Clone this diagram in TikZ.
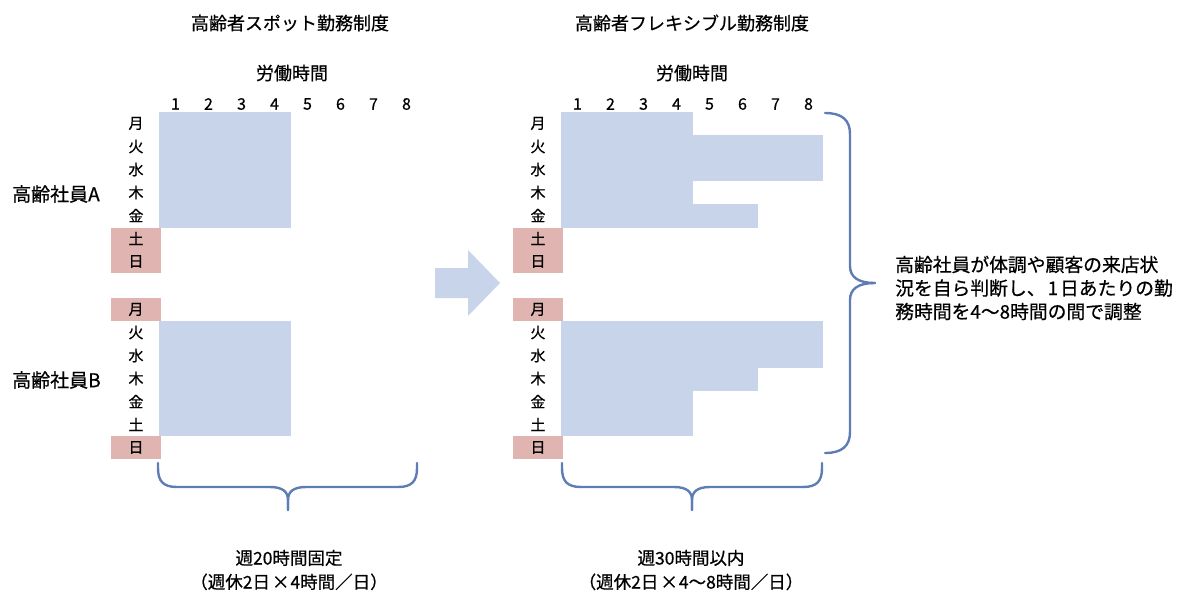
\documentclass[tikz,border=0pt]{standalone}
\usepackage{fontspec}
\setmainfont{Noto Sans CJK JP}[FakeBold=0.6]
\definecolor{barblue}{HTML}{C8D4EA}
\definecolor{wkpink}{HTML}{E0B5B1}
\definecolor{bracecol}{HTML}{5F7DB5}
\begin{document}
\begin{tikzpicture}[x=1pt,y=-1pt,
  ttl/.style={font=\fontsize{18}{20}\selectfont, inner sep=0pt},
  sub/.style={font=\fontsize{18}{20}\selectfont, inner sep=0pt},
  daylab/.style={font=\fontsize{15}{16}\selectfont, inner sep=0pt},
  numlab/.style={font=\fontsize{16}{16}\selectfont, inner sep=0pt},
  grp/.style={font=\fontsize{19}{20}\selectfont, inner sep=0pt, anchor=west},
  note/.style={font=\fontsize{18.8}{23.5}\selectfont, inner sep=0pt, align=left, anchor=west},
  foot/.style={font=\fontsize{17.5}{24}\selectfont, inner sep=0pt, align=center},
  bar/.style={fill=barblue},
  wkend/.style={fill=wkpink},
  bracepath/.style={draw=bracecol, line width=2.4pt, line cap=round, line join=round},
  blockarrow/.style={fill=barblue}]
\useasboundingbox (0,0) rectangle (1178,592);

% titles
\node[ttl] (titleL) at (290,23) {高齢者スポット勤務制度};
\node[ttl] (titleR) at (692,23) {高齢者フレキシブル勤務制度};
\node[sub] (hoursL) at (292,73) {労働時間};
\node[sub] (hoursR) at (692,73) {労働時間};

% group labels
\node[grp] (empA) at (12,194) {高齢社員A};
\node[grp] (empB) at (12,380) {高齢社員B};

% weekend cells (left)
\fill[wkend] (111,227.5) rectangle (161,273);
\fill[wkend] (111,298) rectangle (161,321);
\fill[wkend] (111,436) rectangle (161,459);
% weekend cells (right)
\fill[wkend] (513,227.5) rectangle (563,273);
\fill[wkend] (513,298) rectangle (563,321);
\fill[wkend] (513,436) rectangle (563,459);

% bars left
\fill[bar] (159,112) rectangle (291,227.5);
\fill[bar] (159,321) rectangle (291,436);
% bars right, A
\fill[bar] (561,112) rectangle (693,227.5);
\fill[bar] (692,135) rectangle (823,181);
\fill[bar] (692,204) rectangle (758,227.5);
% bars right, B
\fill[bar] (561,321) rectangle (693,436);
\fill[bar] (692,321) rectangle (823,367.5);
\fill[bar] (692,367) rectangle (758,390.5);

% hour numbers
\foreach \j in {1,...,8} {
  \node[numlab] (numL\j) at (159+33*\j-16.5,104) {\j};
  \node[numlab] (numR\j) at (561+33*\j-16.5,104) {\j};
}

% day labels
\foreach \d [count=\i] in {月,火,水,木,金,土,日} {
  \node[daylab] (dayLA\i) at (136,100.5+23*\i) {\d};
  \node[daylab] (dayLB\i) at (136,286.5+23*\i) {\d};
  \node[daylab] (dayRA\i) at (538,100.5+23*\i) {\d};
  \node[daylab] (dayRB\i) at (538,286.5+23*\i) {\d};
}

% block arrow
\fill[blockarrow] (435,268) -- (468,268) -- (468,250) -- (500,283) -- (468,316) -- (468,298) -- (435,298) -- cycle;

% bottom braces
\coordinate (bLs) at (158,463);
\coordinate (bLe) at (417,463);
\coordinate (bLt) at (288,510);
\draw[bracepath] (bLs) -- (158,468) .. controls (158,481) and (163,487) .. (177,487)
  -- (270,487) .. controls (283,487) and (288,492) .. (288,500) -- (bLt);
\draw[bracepath] (bLe) -- (417,468) .. controls (417,481) and (412,487) .. (398,487)
  -- (306,487) .. controls (293,487) and (288,492) .. (288,500) -- (bLt);

\coordinate (bRs) at (562,463);
\coordinate (bRe) at (822,463);
\coordinate (bRt) at (692,510);
\draw[bracepath] (bRs) -- (562,468) .. controls (562,481) and (567,487) .. (581,487)
  -- (674,487) .. controls (687,487) and (692,492) .. (692,500) -- (bRt);
\draw[bracepath] (bRe) -- (822,468) .. controls (822,481) and (817,487) .. (803,487)
  -- (710,487) .. controls (697,487) and (692,492) .. (692,500) -- (bRt);

% right brace
\coordinate (rbTop) at (825,113);
\coordinate (rbBot) at (825,453);
\coordinate (rbTip) at (875,283);
\draw[bracepath] (rbTop) .. controls (842,113) and (850,120) .. (850,134)
  -- (850,266) .. controls (850,277) and (858,283) .. (rbTip);
\draw[bracepath] (rbBot) .. controls (842,453) and (850,446) .. (850,432)
  -- (850,300) .. controls (850,289) and (858,283) .. (rbTip);

% note
\node[note] (noteR) at (895,288) {高齢社員が体調や顧客の来店状\\況を自ら判断し、\hspace{2pt}1\hspace{2pt}日あたりの勤\\務時間を4〜8時間の間で調整};

% footers
\node[foot] (footL) at (289,570) {週20時間固定\\（週休2日\hspace{2pt}×\hspace{1pt}4時間／日）};
\node[foot] (footR) at (691,570) {週30時間以内\\（週休2日\hspace{2pt}×\hspace{1pt}4〜8時間／日）};
\end{tikzpicture}
\end{document}
